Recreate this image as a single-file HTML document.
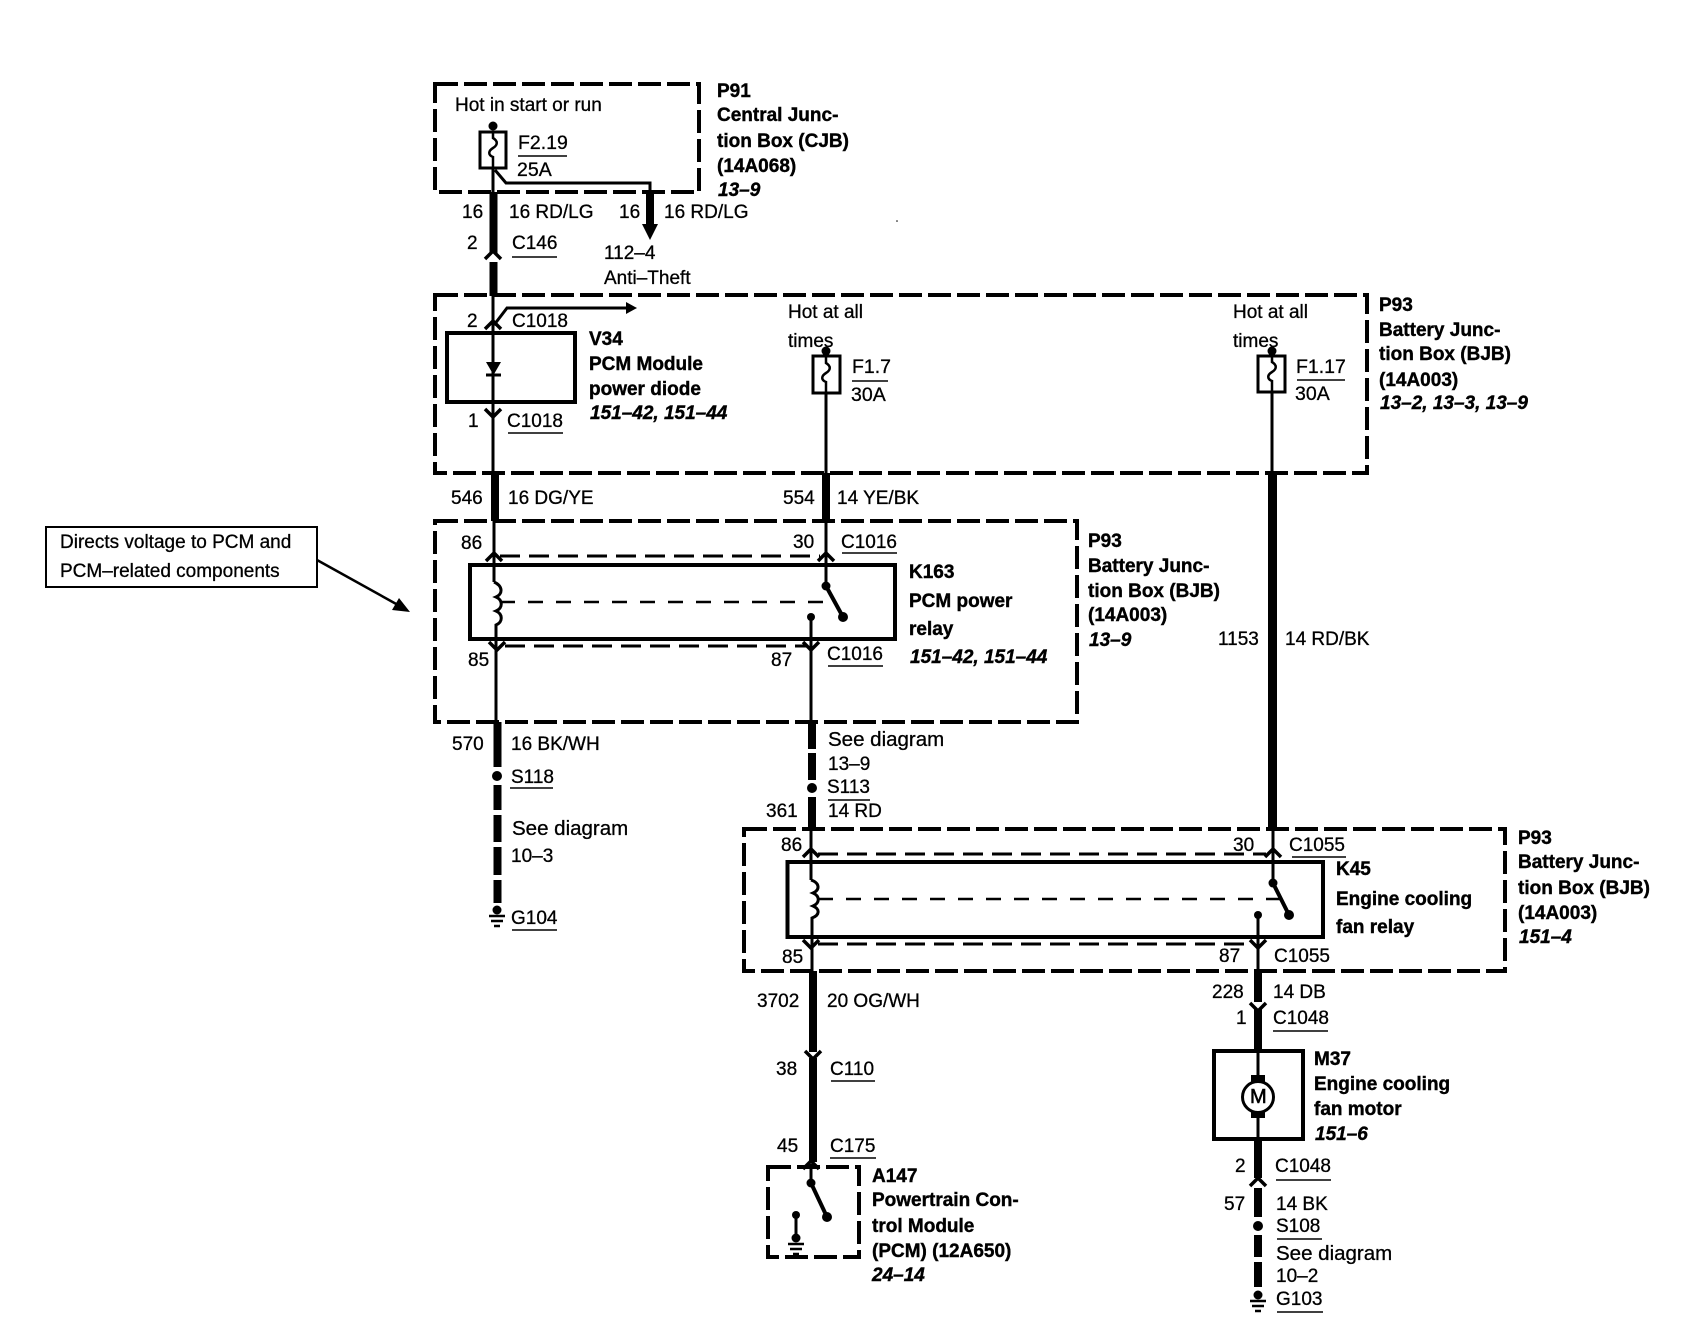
<!DOCTYPE html>
<html><head><meta charset="utf-8"><style>
html,body{margin:0;padding:0;background:#fff}
svg{display:block}
text{font-family:"Liberation Sans",sans-serif;font-size:19px;fill:#000;stroke:#000;stroke-width:.3}
.s{font-size:20.5px}
.f{font-size:19.5px}
.b{font-weight:bold;font-size:19px;stroke-width:.4}
.i{font-weight:bold;font-style:italic;font-size:19px;stroke-width:.4}
.m{fill:none;stroke:#000;stroke-width:4}
.d{fill:none;stroke:#000;stroke-width:4;stroke-dasharray:23 6}
.n{fill:none;stroke:#000;stroke-width:3;stroke-dasharray:20 9}
.t{fill:none;stroke:#000;stroke-width:3}
.h{fill:none;stroke:#000;stroke-width:8}
.u{stroke:#000;stroke-width:1.5}
</style></head><body>
<svg width="1686" height="1344" viewBox="0 0 1686 1344" xmlns="http://www.w3.org/2000/svg">
<defs>
<path id="cu" d="M-8,5 L0,-3 L8,5" fill="none" stroke="#000" stroke-width="3.5"/>
<path id="cd" d="M-8,-5 L0,3 L8,-5" fill="none" stroke="#000" stroke-width="3.5"/>
<g id="gnd"><circle cx="0" cy="0" r="4.5" fill="#000"/><path d="M-8,6H8M-6,11H6M-3,16H3" stroke="#000" stroke-width="2.5"/></g>
<path id="fuse" d="M0,0 V7 C5,10 5,14 0,17 C-5,20 -5,24 0,26 V37" fill="none" stroke="#000" stroke-width="2.5"/>
</defs>

<!-- dashed boxes -->
<rect class="d" x="435" y="84" width="264" height="108"/>
<rect class="d" x="435" y="295" width="932" height="178"/>
<rect class="d" x="435" y="521" width="642" height="201"/>
<rect class="d" x="744" y="829" width="761" height="142"/>
<rect class="d" x="768" y="1167" width="91" height="90"/>

<!-- solid boxes -->
<rect class="m" x="447" y="333" width="128" height="69"/>
<rect class="m" x="470" y="565" width="425" height="74"/>
<rect class="m" x="787.5" y="862" width="535.5" height="75"/>
<rect class="m" x="1214" y="1051" width="89" height="88"/>
<rect x="46" y="527" width="271" height="60" fill="none" stroke="#000" stroke-width="2"/>
<path d="M317,560 L398,605" class="t" style="stroke-width:2.5"/>
<path d="M410,612 L392,610 L399,598Z" fill="#000"/>
<circle cx="897" cy="221" r="0.8" fill="#000"/>

<!-- fuses -->
<rect x="480" y="132" width="26" height="36" fill="none" stroke="#000" stroke-width="3"/>
<use href="#fuse" x="493" y="131"/><circle cx="493" cy="126" r="4.5" fill="#000"/>
<rect x="813" y="356" width="27" height="37" fill="none" stroke="#000" stroke-width="3"/>
<use href="#fuse" x="826" y="356"/><circle cx="826" cy="351" r="4.5" fill="#000"/>
<rect x="1258" y="356" width="27" height="36" fill="none" stroke="#000" stroke-width="3"/>
<use href="#fuse" x="1272" y="355"/><circle cx="1272" cy="351" r="4.5" fill="#000"/>

<!-- top wire -->
<path class="t" d="M493,168V192"/>
<path class="h" d="M493.500,192V253M493.500,262V296"/>
<use href="#cu" x="493" y="254"/>
<path class="t" d="M495,170L506,183H650V192"/>
<path class="h" d="M650,192V226"/>
<path d="M642,224H658L650,240Z" fill="#000"/>
<path class="t" d="M493,296V473"/>
<use href="#cu" x="493" y="324"/>
<path class="t" d="M494,325L507,308H627"/>
<path d="M626,302L637,308L626,314Z" fill="#000"/>
<path d="M486,362H501L493.500,375Z" fill="#000"/><path class="t" d="M486,375H501"/>
<use href="#cd" x="493" y="414"/>

<!-- hot at all wires -->
<path class="t" d="M826,393V473"/>
<path class="t" d="M1272,392V473"/>
<path class="h" d="M495,473V521M826,473V521"/>
<path d="M1272.500,473V827" fill="none" stroke="#000" stroke-width="9"/>

<!-- K163 relay -->
<path class="t" d="M494,521V582M826,521V586"/>
<use href="#cu" x="494" y="556"/><use href="#cu" x="826" y="556"/>
<path class="n" d="M500,556H820"/>
<path class="t" d="M494,582 C503,586 503,594 496,597 C503,600 503,608 496,611 C503,614 503,622 496,625 V722"/>
<path d="M500,602H836" fill="none" stroke="#000" stroke-width="2.5" stroke-dasharray="15 13"/>
<circle cx="826" cy="586" r="4.5" fill="#000"/>
<path d="M826,586L843,617" fill="none" stroke="#000" stroke-width="4"/>
<circle cx="843" cy="617" r="5" fill="#000"/>
<circle cx="811" cy="617" r="4" fill="#000"/>
<path class="t" d="M811,617V722"/>
<path class="n" d="M505,646H806"/>
<use href="#cd" x="497" y="647"/><use href="#cd" x="811" y="647"/>

<!-- 570 -->
<path class="h" d="M497.500,722V767M497.500,785V810M497.500,815V842M497.500,847V875M497.500,880V903"/>
<circle cx="497" cy="776" r="5" fill="#000"/>
<use href="#gnd" x="497" y="910"/>

<!-- 361 -->
<path class="h" d="M812,722V749M812,753V780M812,797V829"/>
<circle cx="812" cy="788" r="5" fill="#000"/>

<!-- K45 relay -->
<path class="t" d="M811,829V880"/>
<path d="M1273,827V883" fill="none" stroke="#000" stroke-width="3"/>
<use href="#cu" x="811" y="852"/><use href="#cu" x="1273" y="852"/>
<path class="n" d="M818,854H1266"/>
<path class="t" d="M811,880 C820,883 820,890 813,893 C820,896 820,903 813,906 C820,909 820,915 812,918 V971"/>
<path d="M818,899H1280" fill="none" stroke="#000" stroke-width="2.5" stroke-dasharray="15 13"/>
<circle cx="1273" cy="883" r="4.5" fill="#000"/>
<path d="M1273,883L1289,915" fill="none" stroke="#000" stroke-width="4"/>
<circle cx="1289" cy="915" r="5" fill="#000"/>
<circle cx="1258" cy="915" r="4" fill="#000"/>
<path class="t" d="M1258,915V971"/>
<use href="#cd" x="811" y="945"/><use href="#cd" x="1258" y="945"/>
<path class="n" d="M818,944H1252"/>

<!-- 3702 -->
<path class="h" d="M813,971V1052M813,1058V1162"/>
<use href="#cd" x="813" y="1056"/><use href="#cu" x="811" y="1164"/>

<!-- A147 -->
<path class="t" d="M811,1164V1183"/>
<circle cx="811" cy="1183" r="4.5" fill="#000"/>
<path d="M811,1183L827,1217" fill="none" stroke="#000" stroke-width="4"/>
<circle cx="827" cy="1217" r="5" fill="#000"/>
<circle cx="796" cy="1215" r="4" fill="#000"/>
<path class="t" d="M796,1215V1237"/>
<use href="#gnd" x="796" y="1238"/>

<!-- motor -->
<path class="h" d="M1258,971V1002M1258,1009V1050"/>
<use href="#cd" x="1258" y="1008"/>
<path class="t" d="M1258,1051V1076M1258,1116V1139"/>
<rect x="1251" y="1075" width="14" height="7" fill="#000"/>
<rect x="1251" y="1110" width="14" height="8" fill="#000"/>
<circle cx="1258" cy="1097" r="15.500" fill="#fff" stroke="#000" stroke-width="3"/>
<path class="h" d="M1258,1139V1178M1258,1188V1217M1258,1235V1257M1258,1262V1287"/>
<use href="#cu" x="1258" y="1181"/>
<circle cx="1258" cy="1226" r="5" fill="#000"/>
<use href="#gnd" x="1258" y="1295"/>

<!-- underlines -->
<g class="u">
<line x1="518" y1="156" x2="567" y2="156"/>
<line x1="512" y1="257" x2="557" y2="257"/>
<line x1="508" y1="433" x2="563" y2="433"/>
<line x1="852" y1="381" x2="888" y2="381"/>
<line x1="1297" y1="380" x2="1345" y2="380"/>
<line x1="842" y1="553" x2="897" y2="553"/>
<line x1="828" y1="666" x2="883" y2="666"/>
<line x1="510" y1="788" x2="553" y2="788"/>
<line x1="512" y1="930" x2="557" y2="930"/>
<line x1="828" y1="800" x2="870" y2="800"/>
<line x1="1292" y1="857" x2="1346" y2="857"/>
<line x1="1273" y1="1031" x2="1328" y2="1031"/>
<line x1="831" y1="1081" x2="875" y2="1081"/>
<line x1="830" y1="1158" x2="876" y2="1158"/>
<line x1="1276" y1="1180" x2="1331" y2="1180"/>
<line x1="1277" y1="1239" x2="1322" y2="1239"/>
<line x1="1277" y1="1312" x2="1323" y2="1312"/>
</g>

<!-- text regular -->
<text x="455" y="111">Hot in start or run</text>
<text class="f" x="518" y="149">F2.19</text>
<text class="f" x="517" y="176">25A</text>
<text x="462" y="218">16</text>
<text x="509" y="218">16 RD/LG</text>
<text x="619" y="218">16</text>
<text x="664" y="218">16 RD/LG</text>
<text x="467" y="249">2</text>
<text x="512" y="249">C146</text>
<text x="604" y="259">112–4</text>
<text x="604" y="284">Anti–Theft</text>
<text x="467" y="327">2</text>
<text x="512" y="327">C1018</text>
<text x="468" y="427">1</text>
<text x="507" y="427">C1018</text>
<text x="788" y="318">Hot at all</text>
<text x="788" y="347">times</text>
<text class="f" x="852" y="373">F1.7</text>
<text class="f" x="851" y="401">30A</text>
<text x="1233" y="318">Hot at all</text>
<text x="1233" y="347">times</text>
<text class="f" x="1296" y="373">F1.17</text>
<text class="f" x="1295" y="400">30A</text>
<text x="451" y="504">546</text>
<text x="508" y="504">16 DG/YE</text>
<text x="783" y="504">554</text>
<text x="837" y="504">14 YE/BK</text>
<text x="461" y="549">86</text>
<text x="793" y="548">30</text>
<text x="841" y="548">C1016</text>
<text x="468" y="666">85</text>
<text x="771" y="666">87</text>
<text x="827" y="660">C1016</text>
<text x="452" y="750">570</text>
<text x="511" y="750">16 BK/WH</text>
<text x="511" y="783">S118</text>
<text class="s" x="512" y="835">See diagram</text>
<text x="511" y="862">10–3</text>
<text x="511" y="924">G104</text>
<text class="s" x="828" y="746">See diagram</text>
<text x="828" y="770">13–9</text>
<text x="827" y="793">S113</text>
<text x="828" y="817">14 RD</text>
<text x="766" y="817">361</text>
<text x="1218" y="645">1153</text>
<text x="1285" y="645">14 RD/BK</text>
<text x="781" y="851">86</text>
<text x="1233" y="851">30</text>
<text x="1289" y="851">C1055</text>
<text x="782" y="963">85</text>
<text x="1219" y="962">87</text>
<text x="1274" y="962">C1055</text>
<text x="757" y="1007">3702</text>
<text x="827" y="1007">20 OG/WH</text>
<text x="1212" y="998">228</text>
<text x="1273" y="998">14 DB</text>
<text x="1236" y="1024">1</text>
<text x="1273" y="1024">C1048</text>
<text x="776" y="1075">38</text>
<text x="830" y="1075">C110</text>
<text x="777" y="1152">45</text>
<text x="830" y="1152">C175</text>
<text x="1235" y="1172">2</text>
<text x="1275" y="1172">C1048</text>
<text x="1224" y="1210">57</text>
<text x="1276" y="1210">14 BK</text>
<text x="1276" y="1232">S108</text>
<text class="s" x="1276" y="1260">See diagram</text>
<text x="1276" y="1282">10–2</text>
<text x="1276" y="1305">G103</text>
<text x="60" y="548">Directs voltage to PCM and</text>
<text x="60" y="577">PCM–related components</text>
<text x="1250" y="1103" style="font-size:20px;stroke-width:.6">M</text>

<!-- bold labels -->
<text class="b" x="717" y="97">P91</text>
<text class="b" x="717" y="121">Central Junc-</text>
<text class="b" x="717" y="147">tion Box (CJB)</text>
<text class="b" x="717" y="172">(14A068)</text>
<text class="i" x="718" y="196">13–9</text>
<text class="b" x="589" y="345">V34</text>
<text class="b" x="589" y="370">PCM Module</text>
<text class="b" x="589" y="395">power diode</text>
<text class="i" x="590" y="419">151–42, 151–44</text>
<text class="b" x="1379" y="311">P93</text>
<text class="b" x="1379" y="336">Battery Junc-</text>
<text class="b" x="1379" y="360">tion Box (BJB)</text>
<text class="b" x="1379" y="386">(14A003)</text>
<text class="i" x="1380" y="409">13–2, 13–3, 13–9</text>
<text class="b" x="1088" y="547">P93</text>
<text class="b" x="1088" y="572">Battery Junc-</text>
<text class="b" x="1088" y="597">tion Box (BJB)</text>
<text class="b" x="1088" y="621">(14A003)</text>
<text class="i" x="1089" y="646">13–9</text>
<text class="b" x="909" y="578">K163</text>
<text class="b" x="909" y="607">PCM power</text>
<text class="b" x="909" y="635">relay</text>
<text class="i" x="910" y="663">151–42, 151–44</text>
<text class="b" x="1336" y="875">K45</text>
<text class="b" x="1336" y="905">Engine cooling</text>
<text class="b" x="1336" y="933">fan relay</text>
<text class="b" x="1518" y="844">P93</text>
<text class="b" x="1518" y="868">Battery Junc-</text>
<text class="b" x="1518" y="894">tion Box (BJB)</text>
<text class="b" x="1518" y="919">(14A003)</text>
<text class="i" x="1519" y="943">151–4</text>
<text class="b" x="872" y="1182">A147</text>
<text class="b" x="872" y="1206">Powertrain Con-</text>
<text class="b" x="872" y="1232">trol Module</text>
<text class="b" x="872" y="1257">(PCM) (12A650)</text>
<text class="i" x="872" y="1281">24–14</text>
<text class="b" x="1314" y="1065">M37</text>
<text class="b" x="1314" y="1090">Engine cooling</text>
<text class="b" x="1314" y="1115">fan motor</text>
<text class="i" x="1315" y="1140">151–6</text>
</svg>
</body></html>
